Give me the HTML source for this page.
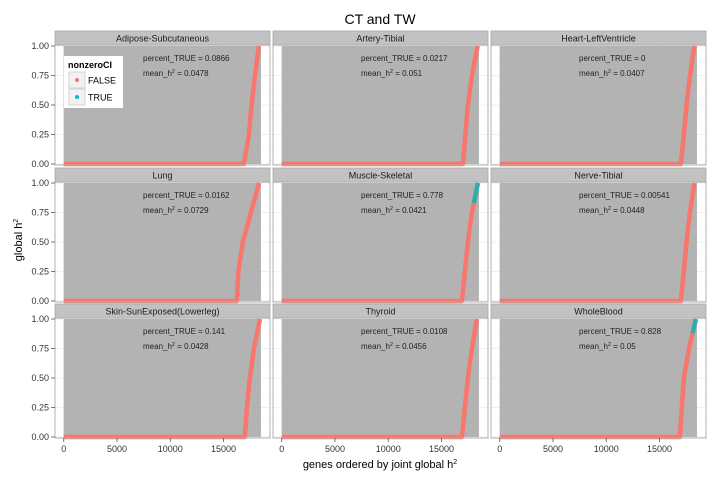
<!DOCTYPE html>
<html><head><meta charset="utf-8"><style>
body{margin:0;background:#fff;}
svg{display:block;font-family:"Liberation Sans",Arial,sans-serif;}
</style></head><body>
<svg id="chart" width="720" height="480" viewBox="0 0 720 480"></svg>
<script>
const panelNames=["Adipose-Subcutaneous","Artery-Tibial","Heart-LeftVentricle","Lung","Muscle-Skeletal","Nerve-Tibial","Skin-SunExposed(Lowerleg)","Thyroid","WholeBlood"];
const percentTrue=["0.0866","0.0217","0","0.0162","0.778","0.00541","0.141","0.0108","0.828"];
const meanH2=["0.0478","0.051","0.0407","0.0729","0.0421","0.0448","0.0428","0.0456","0.05"];
const curveLevels=[0,0.25,0.5,0.75,1];
const curveGenes=[
 [16915,17390,17640,17950,18330],
 [17010,17250,17480,17860,18400],
 [17010,17290,17540,17860,18290],
 [16255,16400,16820,17580,18330],
 [16915,17200,17480,17860,18420],
 [17010,17290,17540,17860,18290],
 [17010,17200,17480,17860,18420],
 [16915,17200,17480,17860,18330],
 [16915,17100,17290,17770,18420]];
const tealStart=[null,null,null,null,0.83,null,null,null,0.88];
const grayEnd=18520;
const xTicks=[0,5000,10000,15000];
const yTicks=[0,0.25,0.5,0.75,1];
const yTickLabels=["0.00","0.25","0.50","0.75","1.00"];
const xDomain=[-820,19370];

const NS="http://www.w3.org/2000/svg";
const svg=document.getElementById("chart");
function el(tag,attrs,parent){const e=document.createElementNS(NS,tag);for(const k in attrs)e.setAttribute(k,attrs[k]);(parent||svg).appendChild(e);return e;}
const colX=[55,273,491], pw=215;
const rowY=[31,168,304], sh=14, ph=120;

const t=el("text",{x:380,y:24,"font-size":14,"text-anchor":"middle",fill:"#000"});


t.textContent="CT and TW";

panelNames.forEach((name,i)=>{
 const c=i%3,r=Math.floor(i/3);
 const x0=colX[c],y0=rowY[r]+sh;
 const xs=g=>x0+(g-xDomain[0])/(xDomain[1]-xDomain[0])*pw;
 const ys=v=>y0+1+(1-v)*(ph-2);
 const g=el("g",{});
 
 
 el("rect",{x:x0,y:y0,width:pw,height:ph,fill:"#fff"},g);
 [0.125,0.375,0.625,0.875].forEach(v=>el("line",{x1:x0,x2:x0+pw,y1:ys(v),y2:ys(v),stroke:"#f7f7f7","stroke-width":0.6},g));
 yTicks.forEach(v=>el("line",{x1:x0,x2:x0+pw,y1:ys(v),y2:ys(v),stroke:"#ebebeb","stroke-width":0.8},g));
 xTicks.forEach(v=>el("line",{x1:xs(v),x2:xs(v),y1:y0,y2:y0+ph,stroke:"#ebebeb","stroke-width":0.8},g));
 const rib=el("rect",{x:xs(0),y:ys(1),width:xs(grayEnd)-xs(0),height:ys(0)-ys(1),fill:"#b3b3b3"},g);
 
 
 const gen=curveGenes[i];
 let pts=[[xs(0),ys(0)]];
 gen.forEach((gg,k)=>pts.push([xs(gg),ys(curveLevels[k])]));
 const line=el("polyline",{points:pts.map(p=>p.join(",")).join(" "),fill:"none",stroke:"#F8766D","stroke-width":4.5,"stroke-linejoin":"round"},g);
 
 
 if(tealStart[i]!==null){
  const ts=tealStart[i];
  const gs=gen[3]+(gen[4]-gen[3])*(ts-0.75)/0.25;
  const tl=el("line",{x1:xs(gs),y1:ys(ts),x2:xs(gen[4]),y2:ys(1),stroke:"#2aaeb0","stroke-width":4.5},g);
  
  
 }
 el("rect",{x:x0,y:y0,width:pw,height:ph,fill:"none",stroke:"#b0b0b0","stroke-width":1},g);
 const st=el("rect",{x:x0,y:rowY[r],width:pw,height:sh,fill:"#c2c2c2",stroke:"#a8a8a8","stroke-width":0.8},g);
 
 
 const stt=el("text",{x:x0+pw/2,y:rowY[r]+10.5,"font-size":9,"text-anchor":"middle",fill:"#1a1a1a"},g);
 
 
 stt.textContent=name;
 const a1=el("text",{x:x0+88,y:y0+16,"font-size":8,fill:"#222"},g);
 
 
 a1.textContent="percent_TRUE = "+percentTrue[i];
 const a2=el("text",{x:x0+88,y:y0+31,"font-size":8,fill:"#222"},g);
 
 
 a2.innerHTML='mean_h<tspan dy="-3" font-size="5.5">2</tspan><tspan dy="3"> = '+meanH2[i]+'</tspan>';
 if(c===0){
  yTicks.forEach((v,k)=>{
   el("line",{x1:x0-4,x2:x0,y1:ys(v),y2:ys(v),stroke:"#555","stroke-width":0.8},g);
   const tx=el("text",{x:x0-6,y:ys(v)+3,"font-size":9,"text-anchor":"end",fill:"#333"},g);
   
   
   tx.textContent=yTickLabels[k];
  });
 }
 if(r===2){
  xTicks.forEach(v=>{
   el("line",{x1:xs(v),x2:xs(v),y1:y0+ph,y2:y0+ph+4,stroke:"#555","stroke-width":0.8},g);
   const tx=el("text",{x:xs(v),y:y0+ph+14,"font-size":9,"text-anchor":"middle",fill:"#333"},g);
   
   
   tx.textContent=v;
  });
 }
});

const yl=el("text",{x:0,y:0,"font-size":11,"text-anchor":"middle",transform:"translate(22,240) rotate(-90)",fill:"#000"});


yl.innerHTML='global h<tspan dy="-4" font-size="7">2</tspan>';
const xl=el("text",{x:380,y:468,"font-size":11,"text-anchor":"middle",fill:"#000"});


xl.innerHTML='genes ordered by joint global h<tspan dy="-4" font-size="7">2</tspan>';

const lg=el("g",{});


el("rect",{x:64,y:56,width:59,height:52,fill:"#fff"},lg);
const lt=el("text",{x:68,y:68,"font-size":9,"font-weight":"bold",fill:"#000"},lg);
lt.textContent="nonzeroCI";
[["FALSE","#F8766D"],["TRUE","#00BFC4"]].forEach((d,k)=>{
 const yy=72+k*17;
 const e=el("g",{},lg);
 
 
 el("rect",{x:69,y:yy,width:16,height:16,fill:"#f2f2f2",stroke:"#ccc","stroke-width":0.8},e);
 el("circle",{cx:77,cy:yy+8,r:2,fill:d[1]},e);
 const tx=el("text",{x:88,y:yy+11.5,"font-size":9,fill:"#000"},e);
 tx.textContent=d[0];
});
</script>
</body></html>
